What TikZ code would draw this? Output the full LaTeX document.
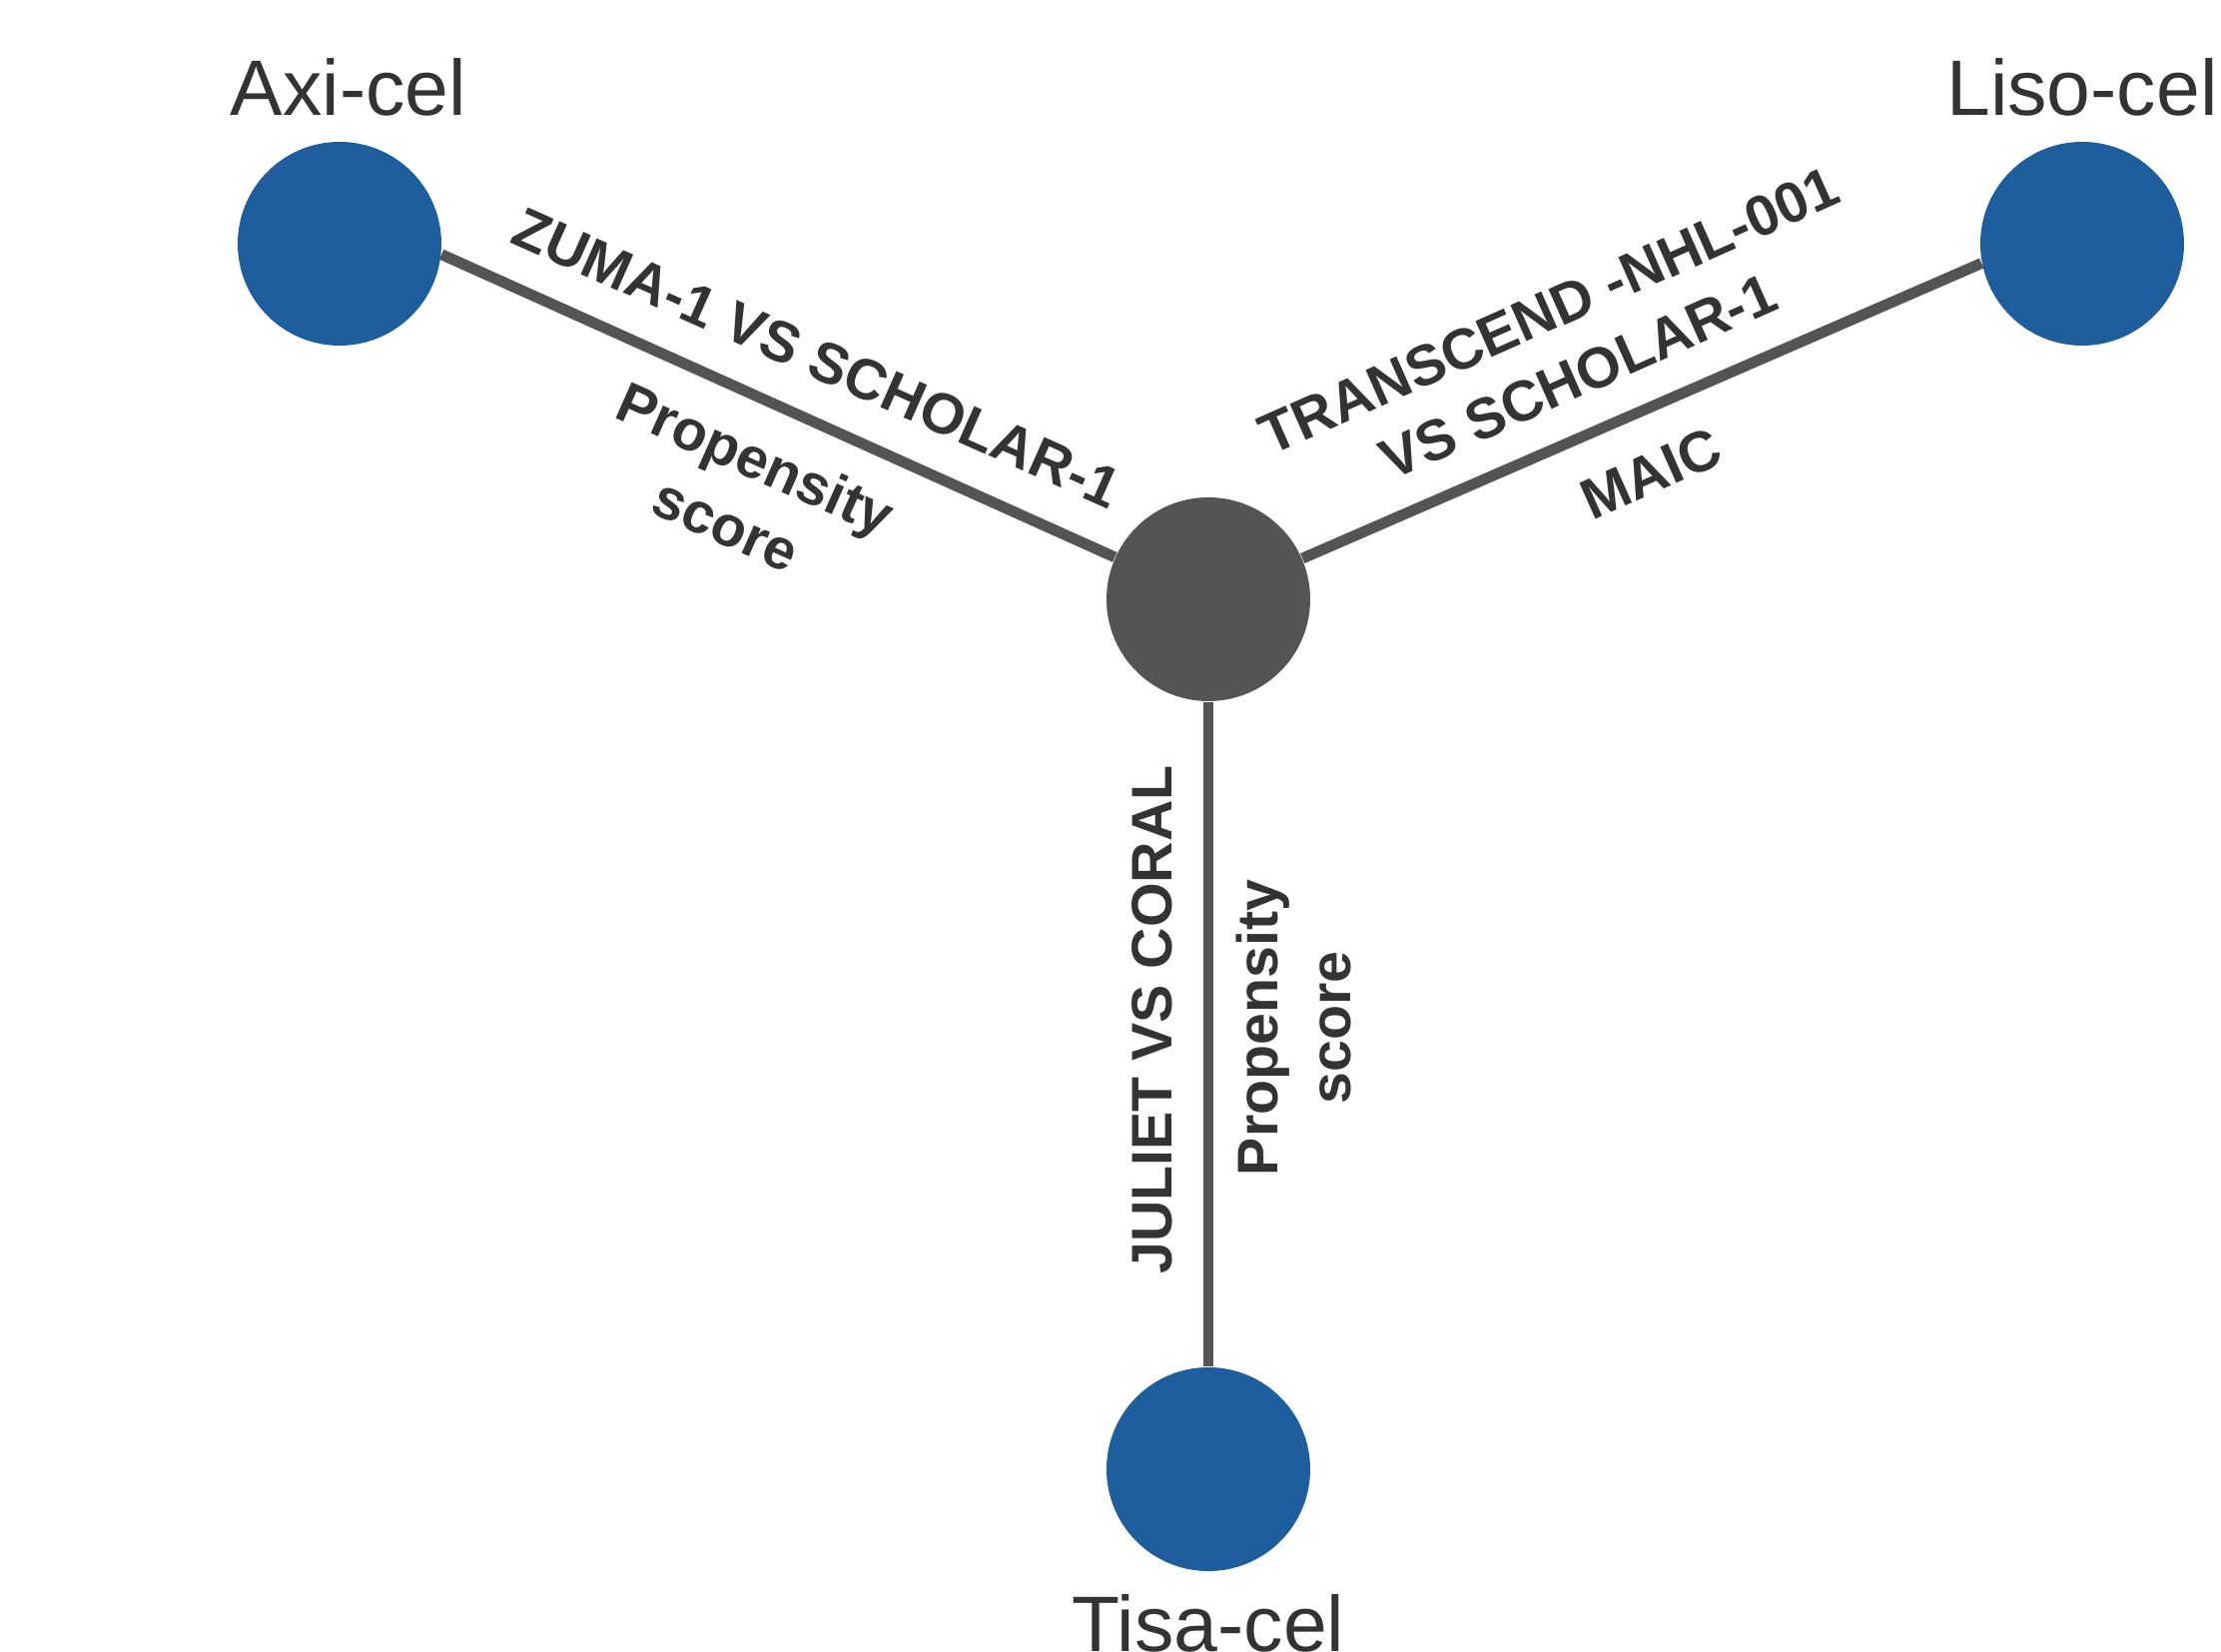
\documentclass[tikz,border=0pt]{standalone}
\usepackage{fontspec}
\setmainfont{Liberation Sans}
\usepackage{tikz}
\usetikzlibrary{positioning}
\definecolor{trtblue}{HTML}{1F5E9C}
\definecolor{hubgray}{HTML}{545454}
\definecolor{txtgray}{HTML}{333333}

\begin{document}
\begin{tikzpicture}[
  trt/.style={circle, fill=trtblue, minimum size=2.04cm, inner sep=0pt},
  hubnode/.style={circle, fill=hubgray, minimum size=2.04cm, inner sep=0pt},
  edge/.style={draw=hubgray, line width=3.1pt},
  namelbl/.style={anchor=base, text=txtgray, inner sep=0pt, font=\fontsize{22.4}{26}\selectfont},
  edgelbl/.style={text=txtgray, inner sep=0pt, align=center, font=\fontsize{16.3}{20.6}\selectfont\bfseries}]
\useasboundingbox (0,0) rectangle (22.24,-16.54);

\node[hubnode] (hub) at (12.10,-6.00) {};
\node[trt] (axi) at (3.40,-2.44) {};
\node[trt] (liso) at (20.85,-2.44) {};
\node[trt] (tisa) at (12.10,-14.71) {};

\node[namelbl] (axiname) at (3.49,-1.15) {Axi-cel};
\node[namelbl] (lisoname) at (20.85,-1.15) {Liso-cel};
\node[namelbl] (tisaname) at (12.10,-16.53) {Tisa-cel};

\draw[edge] (hub) -- (axi.-6);
\draw[edge] (hub) -- (liso.191);
\draw[edge] (hub) -- (tisa);

\node[edgelbl, rotate=-24] (zuma) at (8.18,-3.58) {ZUMA-1 VS SCHOLAR-1};
\node[edgelbl, rotate=-24] (zumamethod) at (7.42,-4.92) {Propensity\\score};
\node[edgelbl, rotate=24] (transcend) at (15.66,-3.44) {TRANSCEND -NHL-001\\VS SCHOLAR-1};
\node[edgelbl, rotate=24] (transmethod) at (16.53,-4.74) {MAIC};
\node[edgelbl, rotate=90] (juliet) at (11.54,-10.21) {JULIET VS CORAL};
\node[edgelbl, rotate=90] (julietmethod) at (12.955,-10.29) {Propensity\\score};
\end{tikzpicture}
\end{document}
